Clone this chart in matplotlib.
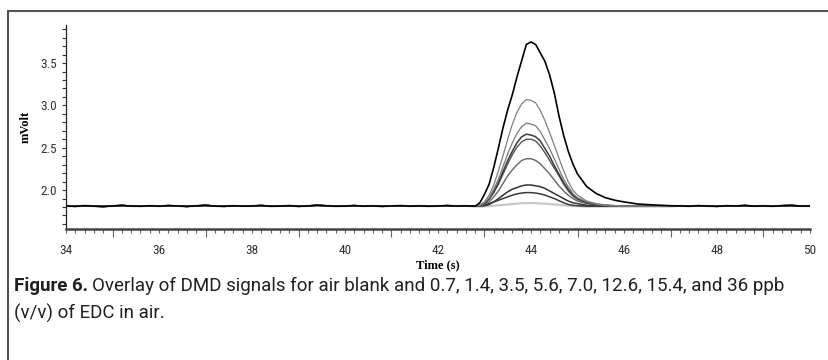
import numpy as np
import matplotlib
matplotlib.use("Agg")
import matplotlib.pyplot as plt
from matplotlib.lines import Line2D
from matplotlib.ticker import MultipleLocator, FuncFormatter
from matplotlib import font_manager as fm

# ---------------- data ----------------
BASE_LEFT_T = np.round(np.arange(34.0, 42.61, 0.2), 1)
BASE_LEFT = [1.812, 1.808, 1.815, 1.810, 1.806, 1.812, 1.818, 1.811, 1.809, 1.814,
             1.810, 1.816, 1.812, 1.807, 1.813, 1.819, 1.811, 1.808, 1.814, 1.810,
             1.812, 1.817, 1.809, 1.811, 1.815, 1.808, 1.812, 1.820, 1.814, 1.809,
             1.811, 1.816, 1.810, 1.813, 1.808, 1.812, 1.815, 1.810, 1.813, 1.809,
             1.812, 1.816, 1.811, 1.813]
BASE_RIGHT_T = np.round(np.arange(47.2, 50.01, 0.2), 1)
BASE_RIGHT = [1.813, 1.809, 1.815, 1.811, 1.808, 1.814, 1.812, 1.817, 1.810, 1.813,
              1.809, 1.815, 1.818, 1.811, 1.812]

T_PEAK = [42.8, 42.9, 43.0, 43.1, 43.2, 43.3, 43.4, 43.5, 43.6, 43.7, 43.8, 43.9,
          44.0, 44.1, 44.2, 44.3, 44.4, 44.5, 44.6, 44.7, 44.8, 44.9, 45.0, 45.2,
          45.4, 45.6, 45.8, 46.0, 46.3, 46.6, 47.0]

blank = [1.805, 1.805, 1.81, 1.81, 1.815, 1.82, 1.825, 1.83, 1.835, 1.84, 1.845, 1.845,
         1.848, 1.845, 1.84, 1.84, 1.835, 1.83, 1.825, 1.82, 1.815, 1.81, 1.81,
         1.805, 1.805, 1.805, 1.805, 1.805, 1.805, 1.805, 1.805]
ppb_0_7 = [1.81, 1.815, 1.825, 1.84, 1.86, 1.88, 1.90, 1.92, 1.94, 1.955, 1.965, 1.97,
           1.97, 1.965, 1.955, 1.94, 1.92, 1.90, 1.875, 1.85, 1.83, 1.82, 1.815,
           1.81, 1.81, 1.81, 1.81, 1.81, 1.81, 1.81, 1.81]
ppb_1_4 = [1.81, 1.81, 1.815, 1.83, 1.86, 1.90, 1.94, 1.98, 2.01, 2.03, 2.05, 2.06,
           2.06, 2.05, 2.04, 2.02, 1.99, 1.96, 1.93, 1.90, 1.87, 1.85, 1.84, 1.82,
           1.815, 1.81, 1.81, 1.81, 1.81, 1.81, 1.81]
ppb_3_5 = [1.81, 1.815, 1.83, 1.86, 1.92, 1.99, 2.08, 2.17, 2.24, 2.30, 2.35, 2.37,
           2.37, 2.35, 2.31, 2.25, 2.19, 2.12, 2.05, 1.99, 1.94, 1.90, 1.87, 1.84,
           1.825, 1.815, 1.81, 1.81, 1.81, 1.81, 1.81]
ppb_5_6 = [1.81, 1.815, 1.84, 1.89, 1.97, 2.07, 2.19, 2.31, 2.42, 2.51, 2.57, 2.60,
           2.60, 2.58, 2.52, 2.44, 2.35, 2.26, 2.17, 2.07, 1.99, 1.93, 1.89, 1.85,
           1.83, 1.82, 1.81, 1.81, 1.81, 1.81, 1.81]
ppb_7_0 = [1.81, 1.82, 1.84, 1.90, 1.98, 2.09, 2.22, 2.35, 2.46, 2.56, 2.63, 2.66,
           2.65, 2.63, 2.58, 2.49, 2.40, 2.29, 2.19, 2.09, 2.01, 1.94, 1.90, 1.85,
           1.83, 1.82, 1.815, 1.81, 1.81, 1.81, 1.81]
ppb_12_6 = [1.81, 1.82, 1.85, 1.91, 2.01, 2.13, 2.28, 2.43, 2.56, 2.67, 2.75, 2.79,
            2.78, 2.76, 2.69, 2.59, 2.49, 2.37, 2.25, 2.13, 2.04, 1.96, 1.91, 1.86,
            1.835, 1.82, 1.815, 1.81, 1.81, 1.81, 1.81]
ppb_15_4 = [1.81, 1.82, 1.86, 1.94, 2.06, 2.23, 2.41, 2.60, 2.78, 2.92, 3.02, 3.07,
            3.06, 3.03, 2.94, 2.82, 2.68, 2.53, 2.38, 2.23, 2.10, 2.00, 1.94, 1.87,
            1.84, 1.825, 1.815, 1.81, 1.81, 1.81, 1.81]
ppb_36 = [1.81, 1.85, 1.95, 2.07, 2.27, 2.50, 2.74, 2.95, 3.13, 3.34, 3.53, 3.72,
          3.75, 3.72, 3.62, 3.52, 3.36, 3.15, 2.88, 2.65, 2.46, 2.31, 2.19, 2.04,
          1.96, 1.91, 1.88, 1.86, 1.835, 1.825, 1.815]

SERIES = [blank, ppb_0_7, ppb_1_4, ppb_3_5, ppb_5_6, ppb_7_0, ppb_12_6, ppb_15_4, ppb_36]
COLORS = ["#c8c8c8", "#3a3a3a", "#333333", "#666666", "#555555", "#3c3c3c",
          "#7a7a7a", "#808080", "#000000"]
WIDTHS = [1.6, 1.1, 1.1, 1.0, 1.0, 1.1, 0.9, 0.9, 1.2]

X_LABELS = [34, 36, 38, 40, 42, 44, 46, 48, 50]

CAPTION_BOLD = "Figure 6."
CAPTION_1 = "Overlay of DMD signals for air blank and 0.7, 1.4, 3.5, 5.6, 7.0, 12.6, 15.4, and 36 ppb"
CAPTION_2 = "(v/v) of EDC in air."


def pick(names):
    avail = {f.name for f in fm.fontManager.ttflist}
    out = [n for n in names if n in avail]
    return out + ["DejaVu Sans"]


# ---------------- figure ----------------
W, H = 829, 360
fig = plt.figure(figsize=(W / 100, H / 100), dpi=100)
fig.patch.set_facecolor("white")

left_px, right_px, top_px, bot_px = 66, 810, 25, 229
ax = fig.add_axes([left_px / W, 1 - bot_px / H, (right_px - left_px) / W, (bot_px - top_px) / H])

for vals, c, lw in zip(SERIES, COLORS, WIDTHS):
    t = np.concatenate([BASE_LEFT_T, T_PEAK, BASE_RIGHT_T])
    v = np.concatenate([BASE_LEFT, vals, BASE_RIGHT])
    ax.plot(t, v, color=c, lw=lw, solid_joinstyle="round")

ax.set_xlim(34, 50)
ax.set_ylim(1.54, 3.95)

for s in ["top", "right"]:
    ax.spines[s].set_visible(False)
ax.spines["left"].set_color("#222222")
ax.spines["left"].set_linewidth(0.9)
ax.spines["bottom"].set_color("#444444")
ax.spines["bottom"].set_linewidth(1.8)

tick_font = pick(["Liberation Sans Narrow", "Roboto Condensed", "Liberation Sans"])

# y axis
ax.yaxis.set_major_locator(MultipleLocator(0.5))
ax.yaxis.set_minor_locator(MultipleLocator(0.1))
ax.yaxis.set_major_formatter(FuncFormatter(lambda v, p: f"{v:.1f}"))
ax.tick_params(axis="y", which="both", direction="out", length=3, width=0.8,
               color="#333333", pad=3.5, labelsize=9.5, labelcolor="#333333")
for lab in ax.get_yticklabels():
    lab.set_family(tick_font)

# x axis: long unlabeled ticks at odd seconds, short ticks every 0.2 with even labels
ax.xaxis.set_major_locator(MultipleLocator(2, offset=1))
ax.xaxis.set_major_formatter(FuncFormatter(lambda v, p: ""))
ax.xaxis.set_minor_locator(MultipleLocator(0.2))
ax.xaxis.set_minor_formatter(FuncFormatter(
    lambda v, p: f"{int(round(v))}" if (abs(v - round(v)) < 1e-6 and int(round(v)) in X_LABELS) else ""))
ax.tick_params(axis="x", which="major", direction="out", length=6, width=0.8, color="#666666")
ax.tick_params(axis="x", which="minor", direction="out", length=3, width=0.8, color="#666666",
               pad=8, labelsize=9.5, labelcolor="#333333")
for lab in ax.xaxis.get_minorticklabels():
    lab.set_family(tick_font)

ax.set_xlabel("Time (s)", family="Liberation Serif", fontweight="bold", fontsize=9, labelpad=1.5)
ax.set_ylabel("mVolt", family="Liberation Serif", fontweight="bold", fontsize=9, labelpad=6)

# frame lines (top and left)
fig.add_artist(Line2D([8 / W, 1.0], [1 - 11 / H, 1 - 11 / H], transform=fig.transFigure,
                      color="#555555", lw=1.5))
fig.add_artist(Line2D([8 / W, 8 / W], [1 - 11 / H, 0.0], transform=fig.transFigure,
                      color="#555555", lw=1.5))

# caption, sized so that the first line spans about the same width as the reference
cap_font = pick(["Roboto", "Lato", "Liberation Sans"])
renderer = fig.canvas.get_renderer()
size = 12.0
target_right = 806
line1_y = 1 - 286 / H
for _ in range(8):
    t1 = fig.text(14 / W, line1_y, CAPTION_BOLD, family=cap_font, fontweight="bold",
                  fontsize=size, va="center", ha="left", color="#231f20")
    bb = t1.get_window_extent(renderer=renderer)
    t2 = fig.text((bb.x1 + 0.3 * size) / W, line1_y, CAPTION_1,
                  family=cap_font, fontsize=size, va="center", ha="left", color="#231f20")
    bb2 = t2.get_window_extent(renderer=renderer)
    width = bb2.x1 - 14
    new_size = min(13.5, size * (target_right - 14) / width)
    if abs(new_size - size) < 0.05:
        break
    t1.remove()
    t2.remove()
    size = new_size
fig.text(14 / W, 1 - 313 / H, CAPTION_2, family=cap_font, fontsize=size,
         va="center", ha="left", color="#231f20")

fig.savefig("out.png", dpi=100, facecolor="white")
